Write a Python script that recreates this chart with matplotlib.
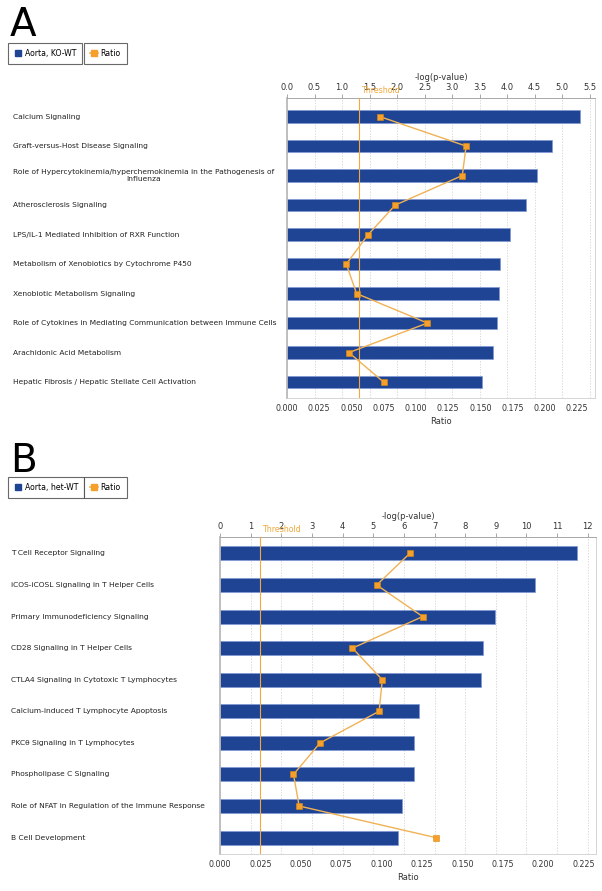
import matplotlib
matplotlib.use("Agg")
import matplotlib.pyplot as plt
from matplotlib.lines import Line2D

plt.rcParams['font.family'] = 'DejaVu Sans'

# painel A - Aorta, KO-WT
cats_a = [
    "Calcium Signaling",
    "Graft-versus-Host Disease Signaling",
    "Role of Hypercytokinemia/hyperchemokinemia in the Pathogenesis of\nInfluenza",
    "Atherosclerosis Signaling",
    "LPS/IL-1 Mediated Inhibition of RXR Function",
    "Metabolism of Xenobiotics by Cytochrome P450",
    "Xenobiotic Metabolism Signaling",
    "Role of Cytokines in Mediating Communication between Immune Cells",
    "Arachidonic Acid Metabolism",
    "Hepatic Fibrosis / Hepatic Stellate Cell Activation",
]
logp_a = [5.33, 4.82, 4.55, 4.34, 4.06, 3.88, 3.85, 3.81, 3.75, 3.55]
ratio_a = [0.072, 0.139, 0.136, 0.084, 0.063, 0.046, 0.054, 0.109, 0.048, 0.075]
ticks_top_a = [0.0, 0.5, 1.0, 1.5, 2.0, 2.5, 3.0, 3.5, 4.0, 4.5, 5.0, 5.5]
ticks_bot_a = [0.0, 0.025, 0.05, 0.075, 0.1, 0.125, 0.15, 0.175, 0.2, 0.225]

# painel B - Aorta, het-WT
cats_b = [
    "T Cell Receptor Signaling",
    "iCOS-iCOSL Signaling in T Helper Cells",
    "Primary Immunodeficiency Signaling",
    "CD28 Signaling in T Helper Cells",
    "CTLA4 Signaling in Cytotoxic T Lymphocytes",
    "Calcium-induced T Lymphocyte Apoptosis",
    "PKC\u03b8 Signaling in T Lymphocytes",
    "Phospholipase C Signaling",
    "Role of NFAT in Regulation of the Immune Response",
    "B Cell Development",
]
logp_b = [11.66, 10.27, 8.99, 8.57, 8.53, 6.48, 6.34, 6.34, 5.94, 5.81]
ratio_b = [0.1175, 0.097, 0.1255, 0.082, 0.1005, 0.0985, 0.062, 0.0455, 0.049, 0.1335]
ticks_top_b = list(range(0, 13))
ticks_bot_b = [0.0, 0.025, 0.05, 0.075, 0.1, 0.125, 0.15, 0.175, 0.2, 0.225]

threshold = 1.3

AZUL = '#1f4494'
LARANJA = '#f5a02a'
LINHA = '#f0b255'
CINZA = '#9a9a9a'
FS = 5.4

W, H = 602, 891
fig = plt.figure(figsize=(W / 100, H / 100), dpi=100)


def px(left, top, right, bottom):
    return [left / W, 1 - bottom / H, (right - left) / W, (bottom - top) / H]


def painel(rect, cats, logp, ratio, xmax_top, xmax_bot, ticks_top, ticks_bot,
           fmt_top, ylim, bar_h, label_x):
    ax = fig.add_axes(rect)
    y = list(range(len(cats)))
    ax.barh(y, logp, height=bar_h, color=AZUL, edgecolor='#7d98d4', linewidth=0.5, zorder=2)
    ax.set_xlim(0, xmax_top)
    ax.set_ylim(*ylim)
    ax.set_yticks([])
    ax.grid(axis='x', color='#cccccc', linestyle=(0, (2, 2)), linewidth=0.5, zorder=0)
    for s in ax.spines.values():
        s.set_color('#cfcfcf')
        s.set_linewidth(0.6)
    ax.spines['top'].set_color(CINZA)
    ax.spines['left'].set_color('#b5b5b5')
    ax.spines['left'].set_linewidth(1.2)

    ax.axvline(threshold, color='#f3a73c', linewidth=0.8, zorder=3)
    ax.annotate('Threshold', xy=(threshold, ylim[1]), xytext=(1.5, 2),
                textcoords='offset points', color='#f0a83c', fontsize=FS + 0.3,
                ha='left', va='bottom', zorder=5, annotation_clip=False)

    for yi, c in zip(y, cats):
        ax.text(label_x, yi, c, transform=ax.get_yaxis_transform(), fontsize=FS,
                ha='left', va='center', multialignment='center', color='#222222')

    ax2 = ax.twiny()
    ax2.xaxis.set_ticks_position('bottom')
    ax2.xaxis.set_label_position('bottom')
    ax2.plot(ratio, y, color=LINHA, linewidth=1.0, marker='s', markersize=4.3,
             markerfacecolor=LARANJA, markeredgecolor='#e08a10', markeredgewidth=0.4, zorder=4)
    ax2.set_xlim(0, xmax_bot)
    ax2.set_ylim(*ylim)
    ax2.set_xticks(ticks_bot)
    ax2.set_xticklabels(['{:.3f}'.format(t) for t in ticks_bot], fontsize=FS + 0.3, color='#333333')
    ax2.set_xlabel('Ratio', fontsize=FS + 0.6, color='#333333', labelpad=3)
    ax2.tick_params(axis='x', length=0, pad=4)
    for s in ax2.spines.values():
        s.set_visible(False)

    # twiny devolve os ticks do eixo original para baixo, recoloca em cima
    ax.xaxis.tick_top()
    ax.xaxis.set_label_position('top')
    ax.set_xticks(ticks_top)
    ax.set_xticklabels([fmt_top.format(t) for t in ticks_top], fontsize=FS + 0.6, color='#333333')
    ax.set_xlabel('-log(p-value)', fontsize=FS + 0.6, color='#333333', labelpad=2)
    ax.tick_params(axis='x', length=3, width=0.6, color=CINZA, pad=1.5)
    return ax


ax_a = painel(px(287, 98, 595, 398), cats_a, logp_a, ratio_a, 5.6, 0.239,
              ticks_top_a, ticks_bot_a, '{:.1f}', (9.54, -0.63), 0.43, -0.89)
ax_b = painel(px(220, 537, 596, 854), cats_b, logp_b, ratio_b, 12.27, 0.2328,
              ticks_top_b, ticks_bot_b, '{:d}', (9.52, -0.52), 0.44, -0.555)

fig.text(10 / W, 1 - 36 / H, 'A', fontsize=28, ha='left', va='baseline')
fig.text(10 / W, 1 - 472 / H, 'B', fontsize=28, ha='left', va='baseline')


def legendas(top, nome):
    h1 = Line2D([], [], marker='s', linestyle='none', color=AZUL, markersize=4.5)
    h2 = Line2D([], [], marker='s', linestyle='-', color=LINHA, markerfacecolor=LARANJA,
                markeredgecolor=LARANJA, markersize=4, linewidth=1.2)
    for h, t, x in [(h1, nome, 8), (h2, 'Ratio', 84)]:
        leg = fig.legend([h], [t], loc='upper left', bbox_to_anchor=(x / W, 1 - top / H),
                         fontsize=FS + 0.2, frameon=True, fancybox=False, handlelength=1.0,
                         handletextpad=0.4, borderpad=0.75, borderaxespad=0,
                         edgecolor='#444444')
        leg.get_frame().set_linewidth(0.8)


legendas(43, 'Aorta, KO-WT')
legendas(477, 'Aorta, het-WT')

fig.savefig('out.png', dpi=100)
